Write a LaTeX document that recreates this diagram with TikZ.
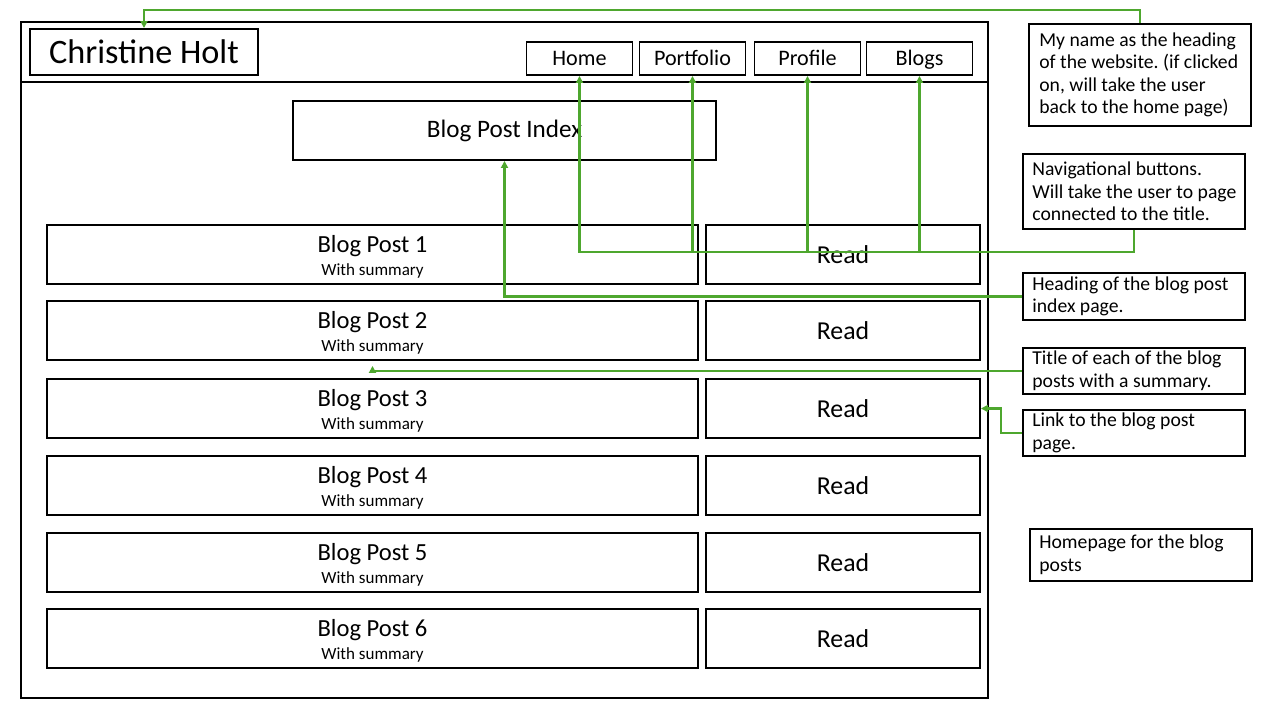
\documentclass[tikz,border=0pt]{standalone}
\usepackage{fontspec}
\setmainfont{Carlito}
\usepackage{tikz}
\usetikzlibrary{arrows.meta}
\frenchspacing
\definecolor{linkgreen}{RGB}{78,167,46}
\tikzstyle{frame}=[draw,line width=1.1pt]
\tikzstyle{box}=[draw,line width=1.1pt,inner sep=0pt]
\tikzstyle{navbox}=[box,minimum width=2.12cm,minimum height=0.66cm,text height=0.32cm,text depth=0.04cm,font=\fontsize{12.6}{15}\selectfont]
\tikzstyle{postbox}=[box,minimum width=13.02cm,minimum height=1.18cm]
\tikzstyle{readbox}=[box,minimum width=5.48cm,minimum height=1.18cm,font=\fontsize{14.7}{17}\selectfont]
\tikzstyle{posttitle}=[inner sep=0pt,font=\fontsize{14}{17}\selectfont]
\tikzstyle{summary}=[inner sep=0pt,font=\fontsize{9.7}{12}\selectfont]
\tikzstyle{note}=[box,anchor=north west,minimum width=4.44cm]
\tikzstyle{notetext}=[anchor=west,align=left,inner sep=0pt,font=\fontsize{11.2}{12.8}\selectfont]
\tikzstyle{link}=[draw,line width=1.2pt,linkgreen]
\tikzstyle{arrow}=[link,-{Triangle[length=4pt,width=4pt]}]

\begin{document}
\begin{tikzpicture}[x=0.02cm,y=-0.02cm]
    \useasboundingbox (0,0) rectangle (1280,720);
    % page outline and header bar
    \draw[frame] (21,22) rectangle (988,698);
    \draw[frame] (21,82) -- (988,82);
    \node[box,minimum width=4.56cm,minimum height=0.92cm,font=\fontsize{19.5}{22}\selectfont] (name) at (144,52) {Christine Holt};
    \foreach \pos/\name/\txt in {579.5/home/Home, 692.5/portfolio/Portfolio, 807.5/profile/Profile, 919.5/blogs/Blogs}
        \node[navbox] (\name) at (\pos,58.5) {\txt};
    \node[box,minimum width=8.46cm,minimum height=1.18cm,font=\fontsize{14.3}{17}\selectfont] (index) at (504.5,130.5) {Blog Post Index};
    % blog post rows
    \foreach \n/\y in {1/254.5, 2/330.5, 3/408.5, 4/485.5, 5/562.5, 6/638.5}{
        \node[postbox] (post\n) at (372.5,\y) {};
        \node[posttitle] (title\n) at ([yshift=0.17cm]post\n.center) {Blog Post \n};
        \node[summary] (sum\n) at ([yshift=-0.33cm]post\n.center) {With summary};
        \node[readbox] (read\n) at (843,\y) {Read};
    }
    % notes
    \node[note,minimum height=2.04cm] (nameNote) at (1028,23) {};
    \node[notetext] at ([xshift=0.22cm]nameNote.west) {My name as the heading\\of the website. (if clicked\\on, will take the user\\back to the home page)};
    \node[note,minimum height=1.5cm] (navNote) at (1022,153) {};
    \node[notetext] at ([xshift=0.2cm]navNote.west) {Navigational buttons.\\Will take the user to page\\connected to the title.};
    \node[note,minimum height=0.94cm] (indexNote) at (1022,272) {};
    \node[notetext] at ([xshift=0.2cm]indexNote.west) {Heading of the blog post\\index page.};
    \node[note,minimum height=0.92cm] (titleNote) at (1022,347) {};
    \node[notetext] at ([xshift=0.2cm]titleNote.west) {Title of each of the blog\\posts with a summary.};
    \node[note,minimum height=0.92cm] (linkNote) at (1022,409) {};
    \node[notetext] at ([xshift=0.2cm]linkNote.west) {Link to the blog post\\page.};
    \node[note,minimum height=1.04cm] (pageNote) at (1029,528) {};
    \node[notetext] at ([xshift=0.2cm]pageNote.west) {Homepage for the blog\\posts};
    % links
    \path[arrow] (nameNote.north) -- ++(0,-13) -| (name.north);
    \coordinate (navbus) at (navNote.south |- 0,252);
    \path[arrow] (navNote.south) -- (navbus) -| (home.south);
    \foreach \dest in {portfolio, profile, blogs}
        \path[arrow] (\dest.south |- navbus) -- (\dest.south);
    \path[arrow] (indexNote.west) -| (index.south);
    \path[arrow,shorten >=0.1cm] (titleNote.west) -| (post2.south);
    \path[arrow] (linkNote.west) -- ++(-21,0) |- (read3.east);
\end{tikzpicture}
\end{document}
